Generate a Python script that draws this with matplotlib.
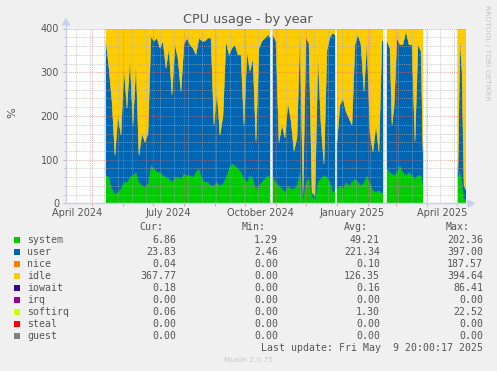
import datetime as dt

import matplotlib
matplotlib.use("Agg")
import matplotlib.dates as mdates
import matplotlib.pyplot as plt
import numpy as np
from matplotlib.lines import Line2D
from matplotlib.patches import Polygon, Rectangle

W, H = 497, 371
NAN = float("nan")

START = dt.datetime(2024, 4, 4, 20, 0)
END = dt.datetime(2025, 5, 9, 20, 0)

# day offsets from START; NaN rows mark the holes in the data
days = [40, 43, 46, 49, 52, 55, 58, 61, 64, 67, 70, 73, 76, 79, 82, 85, 88, 91,
        94, 97, 100, 103, 106, 109, 112, 115, 118, 121, 124, 127, 130, 133, 136,
        139, 142, 145, 148, 151, 154, 157, 160, 163, 166, 169, 172, 175, 178, 181,
        184, 187, 190, 193, 196, 199, 202, 204, 205,
        207, 210, 213, 216, 219, 222, 225, 228, 231, 234, 237, 240, 243, 246, 249,
        252, 255, 258, 261, 264, 267, 269, 270,
        271, 274, 277, 280, 283, 286, 289, 292, 295, 298, 301, 304, 307, 310, 313,
        316, 317, 319,
        321, 324, 326, 328, 331, 334, 337, 340, 343, 346, 349, 352, 355, 357, 358,
        392, 394, 396, 398, 400]

system = [64, 60, 34, 22, 26, 34, 49, 49, 60, 64, 72, 49, 41, 38, 45, 88, 80, 72,
          72, 64, 60, 57, 49, 60, 60, 57, 68, 64, 64, 60, 72, 80, 57, 49, 49, 41,
          41, 49, 41, 45, 60, 80, 91, 87, 80, 72, 57, 49, 64, 57, 34, 41, 49, 57,
          64, 60, NAN,
          60, 49, 41, 34, 26, 41, 34, 34, 41, 72, 12, 49, 57, 18, 8, 49, 57, 64,
          60, 49, 26, 30, NAN,
          34, 41, 34, 49, 41, 49, 57, 49, 41, 49, 64, 47, 30, 26, 30, 22, 25, NAN,
          80, 72, 68, 64, 72, 87, 72, 64, 72, 64, 57, 64, 64, 45, NAN,
          60, 75, 50, 11, 7]

user = [307, 249, 199, 88, 176, 122, 260, 169, 272, 115, 248, 61, 119, 102, 115,
        294, 291, 306, 283, 307, 249, 298, 199, 303, 272, 199, 295, 314, 299, 295,
        268, 298, 314, 322, 329, 337, 138, 207, 115, 155, 311, 260, 264, 276, 260,
        268, 122, 299, 238, 275, 107, 314, 322, 321, 322, 320, NAN,
        326, 321, 99, 146, 124, 189, 156, 86, 109, 318, 8, 331, 308, 7, 10, 291,
        123, 26, 290, 331, 364, 355, NAN,
        106, 184, 206, 161, 154, 130, 306, 337, 322, 207, 307, 113, 88, 153, 88,
        356, 345, NAN,
        291, 283, 111, 154, 306, 276, 291, 330, 291, 299, 84, 299, 284, 73, NAN,
        10, 303, 250, 30, 24]

idle = [27.5, 89.5, 165.5, 289, 197, 242.5, 89.5, 180.5, 66, 219.5, 78, 289, 239,
        259, 238.5, 15.5, 26.5, 19, 42.5, 27, 89.5, 43.5, 150.5, 35.5, 66.5, 142.5,
        35.5, 20.5, 35.5, 43.5, 58.5, 20, 27, 27.5, 20.5, 20.5, 219.5, 142.5, 243,
        199, 27.5, 58.5, 43.5, 35.5, 58.5, 58.5, 220, 50.5, 96.5, 66.5, 258, 43.5,
        27.5, 20.5, 12.5, 18.5, NAN,
        12.5, 28.5, 259, 219, 249, 169, 209, 279, 249, 8.5, 379.5, 18.5, 33.5,
        374.5, 381.5, 58.5, 219, 309, 48.5, 18.5, 8.5, 13.5, NAN,
        259, 174, 159, 189, 204, 220, 35.5, 12.5, 35.5, 142.5, 27.5, 239, 281, 220,
        281, 20.5, 28.5, NAN,
        27, 43, 219.5, 180.5, 20, 35, 35, 4, 35, 35.5, 258, 35.5, 50.5, 281, NAN,
        329, 20.5, 99, 358.5, 368.9]

softirq = [1.5, 1.5, 1.5, 1.0, 1.0, 1.5, 1.5, 1.5, 2.0, 1.5, 2.0, 1.0, 1.0, 1.0,
           1.5, 2.5, 2.5, 3.0, 2.5, 2.0, 1.5, 1.5, 1.5, 1.5, 1.5, 1.5, 1.5, 1.5,
           1.5, 1.5, 1.5, 2.0, 2.0, 1.5, 1.5, 1.5, 1.5, 1.5, 1.0, 1.0, 1.5, 1.5,
           1.5, 1.5, 1.5, 1.5, 1.0, 1.5, 1.5, 1.5, 1.0, 1.5, 1.5, 1.5, 1.5, 1.5, NAN,
           1.5, 1.5, 1.0, 1.0, 1.0, 1.0, 1.0, 1.0, 1.0, 1.5, 0.5, 1.5, 1.5, 0.5,
           0.5, 1.5, 1.0, 1.0, 1.5, 1.5, 1.5, 1.5, NAN,
           1, 1, 1, 1, 1, 1, 1.5, 1.5, 1.5, 1.5, 1.5, 1, 1, 1, 1, 1.5, 1.5, NAN,
           2, 2, 1.5, 1.5, 2, 2, 2, 2, 2, 1.5, 1, 1.5, 1.5, 1, NAN,
           1, 1.5, 1, 0.5, 0.1]

# legend table
names = ["system", "user", "nice", "idle", "iowait", "irq", "softirq", "steal", "guest"]
colors = ["#00CC00", "#0066B3", "#FF8000", "#FFCC00", "#330099", "#990099",
          "#CCFF00", "#FF0000", "#808080"]
cur = [6.86, 23.83, 0.04, 367.77, 0.18, 0.00, 0.06, 0.00, 0.00]
vmin = [1.29, 2.46, 0.00, 0.00, 0.00, 0.00, 0.00, 0.00, 0.00]
vavg = [49.21, 221.34, 0.10, 126.35, 0.16, 0.00, 1.30, 0.00, 0.00]
vmax = [202.36, 397.00, 187.57, 394.64, 86.41, 0.00, 22.52, 0.00, 0.00]

xlabels = ["April 2024", "July 2024", "October 2024", "January 2025", "April 2025"]
xlabel_dates = [dt.datetime(2024, 4, 16), dt.datetime(2024, 7, 16),
                dt.datetime(2024, 10, 16), dt.datetime(2025, 1, 16),
                dt.datetime(2025, 4, 16)]

FONT = "#555555"
AXIS = "#C8D0F2"


def fx(px):
    return px / W


def fy(py):
    return 1 - py / H


fig = plt.figure(figsize=(W / 100, H / 100), dpi=100, facecolor="#F0F0F0")
ax = fig.add_axes([fx(66), fy(203.5), 400 / W, 175 / H])
ax.set_facecolor("white")

x = mdates.date2num([START + dt.timedelta(days=d) for d in days])
base = np.zeros(len(days))
for vals, col in [(system, colors[0]), (user, colors[1]),
                  (idle, colors[3]), (softirq, colors[6])]:
    top = base + np.array(vals, dtype=float)
    ax.fill_between(x, base, top, color=col, linewidth=0.3, edgecolor=col,
                    zorder=1)
    base = top

ax.set_xlim(mdates.date2num(START), mdates.date2num(END))
ax.set_ylim(0, 400)

# y grid
ax.set_yticks(range(0, 401, 100))
ax.set_yticks([v for v in range(0, 401, 20) if v % 100], minor=True)
ax.grid(True, axis="y", which="major", color="#E07070", alpha=0.55,
        linewidth=0.75, linestyle=(0, (1, 1)))
ax.grid(True, axis="y", which="minor", color="#B0B0B0", alpha=0.6,
        linewidth=0.75, linestyle=(0, (1, 1)))

# x grid: month starts (red) and fortnightly mondays (grey)
months = [dt.datetime(2024 + (m - 1) // 12, (m - 1) % 12 + 1, 1) for m in range(5, 18)]
ax.set_xticks(mdates.date2num(months), minor=True)
ax.grid(True, axis="x", which="minor", color="#E07070", alpha=0.55,
        linewidth=0.75, linestyle=(0, (1, 1)))
monday = dt.datetime(2024, 4, 15)
while monday < END:
    ax.axvline(mdates.date2num(monday), color="#B0B0B0", alpha=0.6,
               linewidth=0.75, linestyle=(0, (1, 1)), zorder=2.4)
    monday += dt.timedelta(days=14)
ax.set_axisbelow(False)

ax.set_xticks(mdates.date2num(xlabel_dates))
ax.set_xticklabels(xlabels)
ax.tick_params(axis="x", which="major", length=0, pad=3.6, labelsize=7, labelcolor=FONT)
ax.tick_params(axis="x", which="minor", length=2.5, color="#E8A0A0", width=0.7)
ax.tick_params(axis="y", which="major", length=2, pad=3, labelsize=7,
               labelcolor=FONT, color="#E8A0A0", width=0.7)
ax.tick_params(axis="y", which="minor", length=2, color="#C8C8C8", width=0.7)

for s in ("top", "right", "left", "bottom"):
    ax.spines[s].set_visible(False)

# axes with arrows
fig.add_artist(Line2D([fx(66), fx(66)], [fy(203.5), fy(24)], color=AXIS, lw=1))
fig.add_artist(Line2D([fx(66), fx(469)], [fy(203.5), fy(203.5)], color=AXIS, lw=1))
fig.add_artist(Polygon([[fx(62.5), fy(25)], [fx(69.5), fy(25)], [fx(66), fy(19)]],
                       closed=True, color=AXIS))
fig.add_artist(Polygon([[fx(468), fy(200)], [fx(468), fy(207)], [fx(474), fy(203.5)]],
                       closed=True, color=AXIS))

fig.text(fx(248), fy(19), "CPU usage - by year", ha="center", va="center",
         fontsize=9.2, color=FONT)
fig.text(fx(12), fy(113), "%", rotation=90, ha="center", va="center",
         fontsize=8, color=FONT)
fig.text(fx(487.5), fy(53), "RRDTOOL / TOBI OETIKER", rotation=270, ha="center",
         va="center", fontsize=5.4, color="#C4C4C4")

mono = "DejaVu Sans Mono"
for label, right in [("Cur:", 163), ("Min:", 266), ("Avg:", 368), ("Max:", 470)]:
    fig.text(fx(right), fy(227), label, ha="right", va="center", fontsize=7.1,
             family=mono, color=FONT)

for i, name in enumerate(names):
    yc = 240 + 12 * i
    fig.add_artist(Rectangle((fx(14), fy(yc + 3)), 6 / W, 6 / H,
                             facecolor=colors[i], edgecolor="none"))
    fig.text(fx(27), fy(yc), name, ha="left", va="center", fontsize=7.1,
             family=mono, color=FONT)
    for vals, right in [(cur, 176), (vmin, 278), (vavg, 380), (vmax, 483)]:
        fig.text(fx(right), fy(yc), f"{vals[i]:.2f}", ha="right", va="center",
                 fontsize=7.1, family=mono, color=FONT)

fig.text(fx(483), fy(348), "Last update: Fri May  9 20:00:17 2025", ha="right",
         va="center", fontsize=7.1, family=mono, color=FONT)
fig.text(fx(248), fy(360), "Munin 2.0.75", ha="center", va="center",
         fontsize=5.4, color="#C8C8C8")

fig.savefig("out.png", dpi=100, facecolor=fig.get_facecolor())
